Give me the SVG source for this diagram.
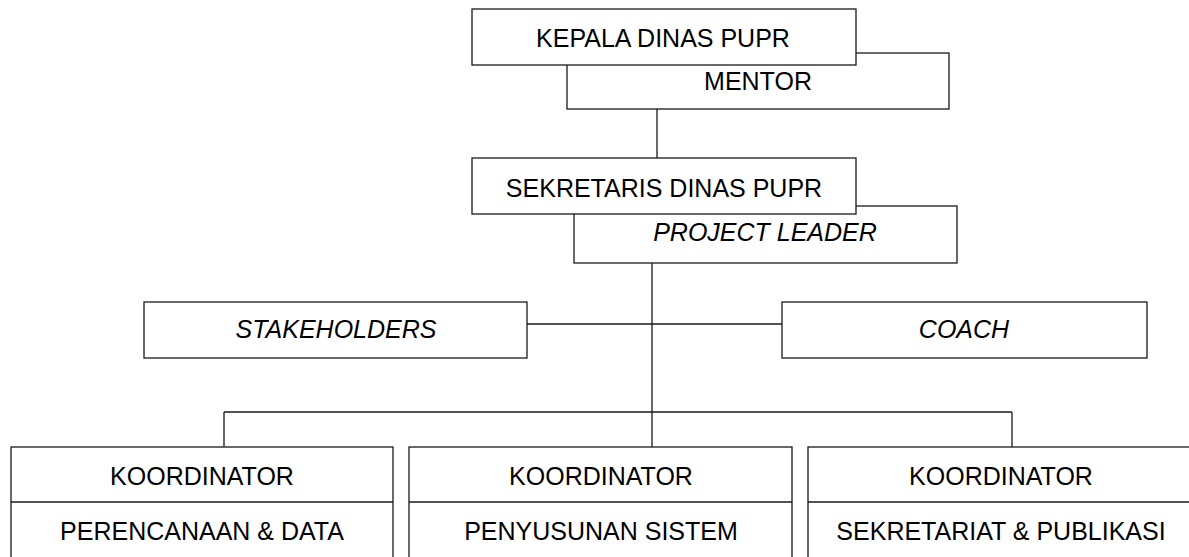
<svg xmlns="http://www.w3.org/2000/svg" width="1189" height="557" viewBox="0 0 1189 557">
<style>
.box{fill:#fff;stroke:#1a1a1a;stroke-width:1.3}
.ln{fill:none;stroke:#1a1a1a;stroke-width:1.3}
text{font-family:"Liberation Sans",Arial,sans-serif;font-size:25px;fill:#000;text-anchor:middle}
.it{font-style:italic}
</style>
<rect width="1189" height="557" fill="#fff"/>
<g id="connectors">
<line class="ln" x1="657" y1="109" x2="657" y2="158"/>
<line class="ln" x1="652" y1="263" x2="652" y2="447"/>
<line class="ln" x1="527" y1="324" x2="782" y2="324"/>
<line class="ln" x1="224" y1="412" x2="1012" y2="412"/>
<line class="ln" x1="224" y1="412" x2="224" y2="447"/>
<line class="ln" x1="1012" y1="412" x2="1012" y2="447"/>
</g>
<g id="mentor">
<rect class="box" x="567" y="53" width="382" height="56"/>
<text x="758" y="90">MENTOR</text>
</g>
<g id="kepala">
<rect class="box" x="472" y="9" width="384" height="56"/>
<text x="663" y="47">KEPALA DINAS PUPR</text>
</g>
<g id="project-leader">
<rect class="box" x="574" y="206" width="383" height="57"/>
<text class="it" x="765" y="241">PROJECT LEADER</text>
</g>
<g id="sekretaris">
<rect class="box" x="472" y="158" width="384" height="56"/>
<text x="664" y="197">SEKRETARIS DINAS PUPR</text>
</g>
<g id="stakeholders">
<rect class="box" x="144" y="302" width="383" height="56"/>
<text class="it" x="336" y="338">STAKEHOLDERS</text>
</g>
<g id="coach">
<rect class="box" x="782" y="302" width="365" height="56"/>
<text class="it" x="964" y="338">COACH</text>
</g>
<g id="koord-perencanaan">
<rect class="box" x="11" y="447" width="382" height="120"/>
<line class="ln" x1="11" y1="502" x2="393" y2="502"/>
<text x="202" y="485">KOORDINATOR</text>
<text x="202" y="540">PERENCANAAN &amp; DATA</text>
</g>
<g id="koord-penyusunan">
<rect class="box" x="409" y="447" width="383" height="120"/>
<line class="ln" x1="409" y1="502" x2="792" y2="502"/>
<text x="601" y="485">KOORDINATOR</text>
<text x="601" y="540">PENYUSUNAN SISTEM</text>
</g>
<g id="koord-sekretariat">
<rect class="box" x="808" y="447" width="390" height="120"/>
<line class="ln" x1="808" y1="502" x2="1198" y2="502"/>
<text x="1001" y="485">KOORDINATOR</text>
<text x="1001" y="540">SEKRETARIAT &amp; PUBLIKASI</text>
</g>
</svg>
